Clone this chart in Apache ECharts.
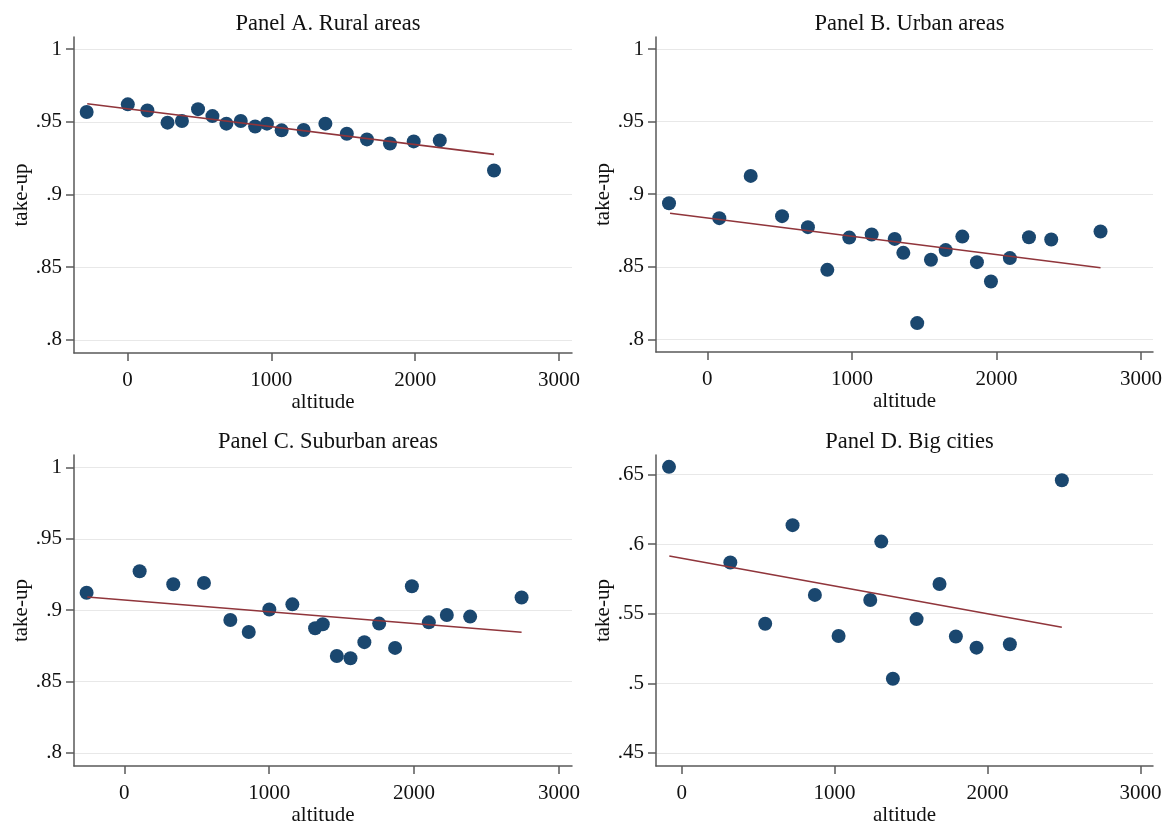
<!DOCTYPE html>
<html>
<head>
<meta charset="utf-8">
<script src="https://cdn.jsdelivr.net/npm/echarts@6/dist/echarts.min.js"></script>
<style>
html,body{margin:0;padding:0;background:#fff;}
#chart{width:1170px;height:827px;}
</style>
</head>
<body>
<div id="chart"></div>
<script>
// ---------- DATA ----------
const panelTitles = ['Panel A. Rural areas', 'Panel B. Urban areas', 'Panel C. Suburban areas', 'Panel D. Big cities'];
const xTicks = [0, 1000, 2000, 3000];
const yTicksABC = [0.8, 0.85, 0.9, 0.95, 1];
const yTicksD = [0.45, 0.5, 0.55, 0.6, 0.65];

// Panel A. Rural areas: [altitude, take-up]
const ruralPts = [
  [-283, 0.9567], [3, 0.962], [139, 0.9578], [279, 0.9494], [379, 0.9505],
  [491, 0.9587], [591, 0.9539], [688, 0.9487], [788, 0.9505], [888, 0.9468],
  [970, 0.9487], [1072, 0.9441], [1225, 0.9443], [1376, 0.9487], [1525, 0.9418],
  [1665, 0.9379], [1825, 0.9351], [1990, 0.9365], [2171, 0.9372], [2548, 0.9165]
];
const ruralFit = [[-279, 0.9624], [2548, 0.9276]];

// Panel B. Urban areas
const urbanPts = [
  [-265, 0.8938], [83, 0.8835], [300, 0.9126], [517, 0.8849], [696, 0.8773],
  [830, 0.8479], [982, 0.8701], [1137, 0.8722], [1296, 0.8692], [1356, 0.8596],
  [1452, 0.8112], [1547, 0.8548], [1649, 0.8615], [1764, 0.8708], [1865, 0.8532],
  [1962, 0.8399], [2093, 0.856], [2225, 0.8704], [2379, 0.8688], [2720, 0.8743]
];
const urbanFit = [[-258, 0.8869], [2720, 0.8493]];

// Panel C. Suburban areas
const suburbanPts = [
  [-260, 0.9122], [106, 0.9273], [338, 0.9182], [550, 0.9191], [732, 0.8931],
  [859, 0.8847], [1001, 0.9005], [1160, 0.9041], [1317, 0.8874], [1370, 0.8902],
  [1467, 0.8679], [1561, 0.8663], [1657, 0.8776], [1759, 0.8906], [1869, 0.8736],
  [1985, 0.9168], [2102, 0.8915], [2226, 0.8966], [2387, 0.8955], [2742, 0.9089]
];
const suburbanFit = [[-255, 0.9092], [2742, 0.8845]];

// Panel D. Big cities
const cityPts = [
  [-83, 0.6555], [318, 0.5868], [546, 0.5428], [725, 0.6136], [871, 0.5635],
  [1026, 0.534], [1233, 0.5598], [1305, 0.6018], [1381, 0.5033], [1536, 0.5461],
  [1686, 0.5713], [1793, 0.5336], [1928, 0.5256], [2146, 0.528], [2486, 0.6459]
];
const cityFit = [[-81, 0.5915], [2486, 0.5402]];

// axis ranges (approximate)
const xRanges = [[-371, 3090], [-355, 3083], [-347, 3090], [-168, 3082]];
const yRanges = [[0.791, 1.0083], [0.7913, 1.0083], [0.7908, 1.0087], [0.4405, 0.664]];

// ---------- CHART ----------
const FONT = 'Liberation Serif';
const grids = [
  {left: 74, right: 598, top: 37, height: 316},
  {left: 656, right: 17, top: 37, height: 315},
  {left: 74, right: 598, top: 455, height: 317},
  {left: 656, right: 17, top: 455, height: 317}
];
const ptsAll = [ruralPts, urbanPts, suburbanPts, cityPts];
const fitAll = [ruralFit, urbanFit, suburbanFit, cityFit];
const yTicksAll = [yTicksABC, yTicksABC, yTicksABC, yTicksD];

const fmtY = v => {
  let s = String(+(+v).toFixed(4));
  return s.replace(/^0\./, '.');
};
const fmtX = v => String(Math.round(+v));
const axisLineStyle = {color: '#595959', width: 1.5};
const LBL = 21;

const option = {
  backgroundColor: '#fff',
  animation: false,
  title: grids.map((g, i) => {
    const w = 1170 - g.left - g.right;
    return {
      text: panelTitles[i],
      left: g.left + w / 2,
      top: g.top - 29,
      textAlign: 'center',
      textStyle: {fontFamily: FONT, fontSize: 22.5, fontWeight: 'normal', color: '#111'}
    };
  }),
  grid: grids.map(g => Object.assign({containLabel: false}, g)),
  xAxis: grids.map((g, i) => ({
    type: 'value',
    gridIndex: i,
    min: xRanges[i][0],
    max: xRanges[i][1],
    name: 'altitude',
    nameLocation: 'middle',
    nameGap: 34,
    nameTextStyle: {fontFamily: FONT, fontSize: LBL, color: '#111'},
    axisLine: {show: true, onZero: false, lineStyle: axisLineStyle},
    axisTick: {show: true, inside: false, length: 8, lineStyle: axisLineStyle, customValues: xTicks},
    axisLabel: {show: true, margin: 17, fontFamily: FONT, fontSize: LBL, color: '#111', formatter: fmtX, customValues: xTicks},
    splitLine: {show: false}
  })),
  yAxis: grids.map((g, i) => ({
    type: 'value',
    gridIndex: i,
    min: yRanges[i][0],
    max: yRanges[i][1],
    name: 'take-up',
    nameLocation: 'middle',
    nameRotate: 90,
    nameGap: 42,
    nameTextStyle: {fontFamily: FONT, fontSize: LBL, color: '#111'},
    axisLine: {show: true, onZero: false, lineStyle: axisLineStyle},
    axisTick: {show: true, inside: false, length: 8, lineStyle: axisLineStyle, customValues: yTicksAll[i]},
    axisLabel: {show: true, margin: 12, fontFamily: FONT, fontSize: LBL, color: '#111', formatter: fmtY, customValues: yTicksAll[i]},
    splitLine: {show: true, lineStyle: {color: '#e8e8e8', width: 1.2}}
  })),
  series: []
};

for (let i = 0; i < 4; i++) {
  option.series.push({
    type: 'scatter',
    xAxisIndex: i, yAxisIndex: i,
    data: ptsAll[i],
    symbol: 'circle',
    symbolSize: 14,
    itemStyle: {color: '#1a476f', opacity: 1},
    z: 2
  });
  option.series.push({
    type: 'line',
    xAxisIndex: i, yAxisIndex: i,
    data: fitAll[i],
    symbol: 'none',
    lineStyle: {color: '#90353b', width: 1.6},
    z: 3
  });
}

const chart = echarts.init(document.getElementById('chart'), null, {renderer: 'canvas'});
chart.setOption(option);
</script>
</body>
</html>
